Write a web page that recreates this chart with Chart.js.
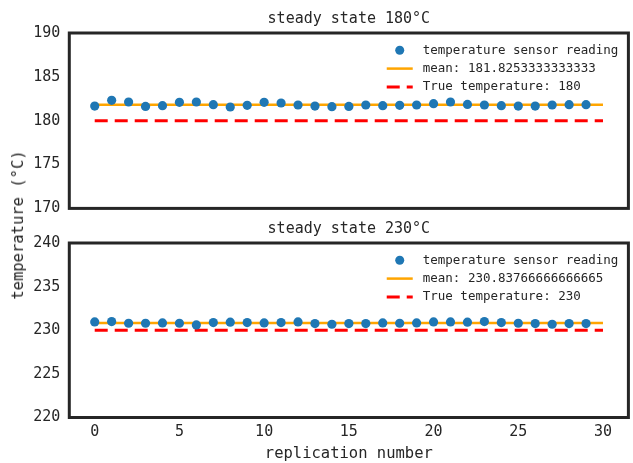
<!DOCTYPE html>
<html>
<head>
<meta charset="utf-8">
<script src="https://cdn.jsdelivr.net/npm/chart.js@4"></script>
<style>
  body { margin: 0; background: #fff; }
  #wrap { position: relative; width: 633px; height: 463px; background: #fff; }
  .panel { position: absolute; left: 0; width: 633px; }
  #ylabel {
    position: absolute; left: 18px; top: 225px;
    transform: translate(-50%, -50%) rotate(-90deg);
    white-space: nowrap; font: 15.5px "DejaVu Sans Mono"; color: #262626;
  }
</style>
</head>
<body>
<div id="wrap">
  <div class="panel" style="top:0;height:213px"><canvas id="chartTop"></canvas></div>
  <div class="panel" style="top:210px;height:253px"><canvas id="chartBottom"></canvas></div>
  <div id="ylabel">temperature (°C)</div>
</div>
<script>
const replications = [0, 1, 2, 3, 4, 5, 6, 7, 8, 9, 10, 11, 12, 13, 14, 15, 16, 17, 18, 19, 20, 21, 22, 23, 24, 25, 26, 27, 28, 29];
const readings180 = [181.67, 182.32, 182.13, 181.63, 181.71, 182.09, 182.13, 181.83, 181.56, 181.75, 182.09, 182.02, 181.79, 181.67, 181.60,
                     181.63, 181.79, 181.71, 181.75, 181.79, 181.94, 182.13, 181.86, 181.79, 181.71, 181.67, 181.67, 181.79, 181.83, 181.83];
const readings230 = [230.95, 230.99, 230.80, 230.80, 230.84, 230.80, 230.61, 230.88, 230.92, 230.88, 230.84, 230.88, 230.95, 230.76, 230.69,
                     230.76, 230.76, 230.84, 230.80, 230.84, 230.95, 230.95, 230.92, 230.99, 230.88, 230.80, 230.76, 230.69, 230.76, 230.76];
const mean180 = 181.8253333333333;
const mean230 = 230.83766666666665;
const true180 = 180;
const true230 = 230;
const lineSpan = [0, 30];
const xTicks = [0, 5, 10, 15, 20, 25, 30];
const yTicks180 = [170, 175, 180, 185, 190];
const yTicks230 = [220, 225, 230, 235, 240];

const INK = '#262626';
const MONO = '"DejaVu Sans Mono", monospace';

// frame around the plot area + legend tucked in the upper right corner
const panelDeco = {
  id: 'panelDeco',
  afterDatasetsDraw(chart) {
    const { ctx, chartArea: a } = chart;
    ctx.save();
    ctx.strokeStyle = INK;
    ctx.lineWidth = 3;
    ctx.strokeRect(a.left, a.top, a.right - a.left, a.bottom - a.top);

    ctx.font = '12.5px ' + MONO;
    const sets = chart.data.datasets;
    const maxW = Math.max(...sets.map(d => ctx.measureText(d.label).width));
    const tx = a.right - 10 - maxW;
    const rows = [17.3, 35.6, 54];
    sets.forEach((d, i) => {
      const y = a.top + rows[i];
      if (d.showLine === false) {
        ctx.fillStyle = d.backgroundColor;
        ctx.beginPath();
        ctx.arc(tx - 23, y, 4.5, 0, Math.PI * 2);
        ctx.fill();
      } else {
        ctx.strokeStyle = d.borderColor;
        ctx.lineWidth = d.borderWidth;
        ctx.setLineDash(d.borderDash || []);
        ctx.beginPath();
        ctx.moveTo(tx - 36, y);
        ctx.lineTo(tx - 10, y);
        ctx.stroke();
        ctx.setLineDash([]);
      }
      ctx.fillStyle = INK;
      ctx.textBaseline = 'middle';
      ctx.textAlign = 'left';
      ctx.fillText(d.label, tx, y);
    });
    ctx.restore();
  }
};

function makePanel(id, title, readings, mean, trueT, yTicks, showX) {
  return new Chart(document.getElementById(id), {
    type: 'scatter',
    data: {
      datasets: [
        {
          label: 'temperature sensor reading',
          data: replications.map((r, i) => ({ x: r, y: readings[i] })),
          showLine: false,
          backgroundColor: '#1f77b4',
          borderColor: '#1f77b4',
          pointRadius: 4.6,
          pointBorderWidth: 0
        },
        {
          label: 'mean: ' + mean,
          data: lineSpan.map(x => ({ x, y: mean })),
          showLine: true,
          borderColor: '#ffa500',
          borderWidth: 2.5,
          pointRadius: 0
        },
        {
          label: 'True temperature: ' + trueT,
          data: lineSpan.map(x => ({ x, y: trueT })),
          showLine: true,
          borderColor: '#ff0000',
          borderWidth: 3,
          borderDash: [13, 7],
          pointRadius: 0
        }
      ]
    },
    options: {
      responsive: true,
      maintainAspectRatio: false,
      animation: false,
      layout: { padding: { top: 0, right: 2, left: 0, bottom: 0 } },
      plugins: {
        legend: { display: false },
        tooltip: { enabled: false },
        title: {
          display: true,
          text: title,
          fullSize: false,
          color: INK,
          font: { family: MONO, size: 15, weight: 'normal' },
          padding: { top: 10, bottom: 5 }
        }
      },
      scales: {
        x: {
          type: 'linear',
          min: -1.5,
          max: 31.5,
          display: showX,
          afterBuildTicks: s => { s.ticks = xTicks.map(v => ({ value: v })); },
          afterFit: s => { s.height = showX ? 45.5 : 0; },
          grid: { display: false, drawTicks: false },
          border: { display: false },
          ticks: { color: INK, font: { family: MONO, size: 15 }, padding: 6, maxRotation: 0 },
          title: {
            display: showX,
            text: 'replication number',
            color: INK,
            font: { family: MONO, size: 15.5 },
            padding: 0
          }
        },
        y: {
          min: yTicks[0],
          max: yTicks[yTicks.length - 1],
          afterBuildTicks: s => { s.ticks = yTicks.map(v => ({ value: v })); },
          // labels may hang over the frame; don't let them push the plot area
          afterFit: s => { s.width = 69.3; s.paddingTop = 0; s.paddingBottom = 0; },
          grid: { display: false, drawTicks: false },
          border: { display: false },
          ticks: { color: INK, font: { family: MONO, size: 15 }, padding: 9 }
        }
      }
    },
    plugins: [panelDeco]
  });
}

makePanel('chartTop', 'steady state 180°C', readings180, mean180, true180, yTicks180, false);
makePanel('chartBottom', 'steady state 230°C', readings230, mean230, true230, yTicks230, true);
</script>
</body>
</html>
